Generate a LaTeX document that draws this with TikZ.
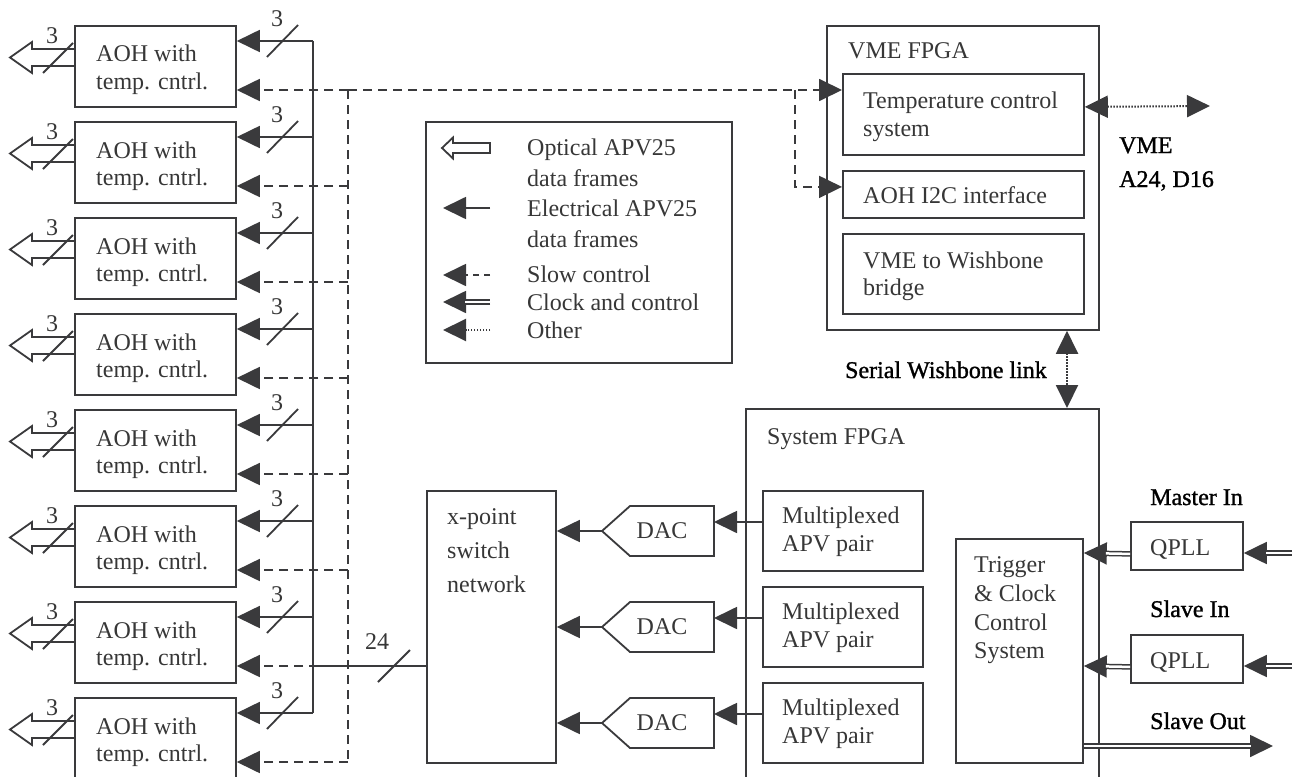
\documentclass[tikz,border=0pt]{standalone}
\usepackage{fontspec}
\setmainfont{Liberation Serif}
\newfontfamily\lblfont[FakeBold=1.2]{Liberation Serif}
\usetikzlibrary{arrows.meta}
\definecolor{lc}{RGB}{58,58,60}
\definecolor{tc}{RGB}{55,55,55}
\begin{document}
\begin{tikzpicture}[x=1pt,y=-1pt,
  ln/.style={draw=lc,line width=1.8pt},
  box/.style={draw=lc,line width=1.8pt,anchor=north west,inner sep=0pt},
  txt/.style={anchor=base west,inner sep=0pt,text=tc,font=\fontsize{24}{28}\selectfont},
  lbl/.style={anchor=base west,inner sep=0pt,text=black,font=\lblfont\fontsize{24}{28}\selectfont},
  num/.style={inner sep=0pt,text=tc,font=\fontsize{24}{28}\selectfont},
  tip/.style={-{Triangle[length=23pt,width=22pt]}},
  tips/.style={{Triangle[length=23pt,width=22pt]}-{Triangle[length=23pt,width=22pt]}},
  dsh/.style={ln,dash pattern=on 9pt off 6pt},
  dts/.style={ln,line width=2pt,dash pattern=on 1.5pt off 1.5pt},
  dbl/.style={draw=lc,line width=1.5pt,double=white,double distance=2.5pt},
]
\path[use as bounding box,fill=white] (0,0) rectangle (1292,776);

% ---------- big containers ----------
\node[box,minimum width=272pt,minimum height=304pt] (vme) at (826,25) {};
\node[txt] (vmet) at (848,59) {VME FPGA};
\node[box,minimum width=241pt,minimum height=81pt] (temp) at (842,73) {};
\node[txt] (tempa) at (863,108) {Temperature control};
\node[txt] (tempb) at (863,136) {system};
\node[box,minimum width=241pt,minimum height=47pt] (i2c) at (842,170) {};
\node[txt] (i2ct) at (863,203) {AOH I2C interface};
\node[box,minimum width=241pt,minimum height=80pt] (brg) at (842,233) {};
\node[txt] (brga) at (863,268) {VME to Wishbone};
\node[txt] (brgb) at (863,295) {bridge};

\node[box,minimum width=353pt,minimum height=400pt] (sys) at (745,408) {};
\node[txt] (syst) at (767,444) {System FPGA};

\node[box,minimum width=129pt,minimum height=272pt] (xpt) at (426,490) {};
\node[txt] (xpta) at (447,524) {x-point};
\node[txt] (xptb) at (447,558) {switch};
\node[txt] (xptc) at (447,592) {network};

% ---------- AOH column ----------
\foreach \i in {1,...,8}{
  \pgfmathsetmacro{\T}{25+96*(\i-1)}
  \node[box,minimum width=161pt,minimum height=81pt] (aoh\i) at (74,\T) {};
  \node[txt] (aoha\i) at (96,\T+37) {AOH with};
  \node[txt] (aohb\i) at (96,\T+64) {temp. cntrl.};
  \coordinate (bus\i) at (313,\T+16);
  \coordinate (sc\i) at (348,\T+65);
  \draw[ln,tip] (bus\i) -- (aoh\i.east |- bus\i);
  \draw[dsh,tip] (sc\i) -- (aoh\i.east |- sc\i);
  \draw[ln] (267,\T+32) -- (298,\T);
  \node[num] (nd\i) at (277,\T-6.5) {3};
  \draw[ln,line join=miter] (74,\T+24) -- (32,\T+24) -- (32,\T+17) -- (10,\T+32.5)
        -- (32,\T+48) -- (32,\T+41) -- (74,\T+41);
  \draw[ln] (43,\T+48) -- (73,\T+18);
  \node[num] (no\i) at (52,\T+10.5) {3};
}
\draw[ln] (bus1) -- (bus8);
\draw[dsh] (sc1) -- (sc8);

% 24-bit bus to x-point
\coordinate (b24) at (313,666);
\draw[ln] (b24) -- (xpt.west |- b24);
\draw[ln] (378,682) -- (410,650);
\node[num] (n24) at (377,642) {24};

% slow control to VME FPGA
\draw[dsh,tip] (sc1) -- (temp.west |- sc1);
\coordinate (br) at (795,90);
\draw[dsh,tip] (br) |- ([yshift=7.5pt]i2c.west);

% VME bus
\coordinate (vmeout) at (1210,106);
\draw[dts,tips] ([yshift=7.5pt]temp.east) -- (vmeout);
\node[lbl] (vmel1) at (1119,153) {VME};
\node[lbl] (vmel2) at (1119,187) {A24, D16};

% serial wishbone link
\coordinate (swx) at (1067,0);
\draw[dts,tips] (vme.south -| swx) -- (sys.north -| swx);
\node[lbl,anchor=base east] (swl) at (1047,378) {Serial Wishbone link};

% ---------- mux / DAC ----------
\foreach \j/\m in {1/490,2/586,3/682}{
  \node[box,minimum width=160pt,minimum height=80pt] (mux\j) at (762,\m) {};
  \node[txt] (muxa\j) at (782,\m+33.5) {Multiplexed};
  \node[txt] (muxb\j) at (782,\m+61.5) {APV pair};
  \draw[ln,line join=miter] (714,\m+16) -- (630,\m+16) -- (602,\m+41) -- (630,\m+66) -- (714,\m+66) -- cycle;
  \node[num] (dac\j) at (662,\m+41) {DAC};
  \coordinate (dacr\j) at (714,\m+32);
  \coordinate (dacl\j) at (602,\m+41);
  \draw[ln,tip] (mux\j.west |- dacr\j) -- (dacr\j);
  \draw[ln,tip] (dacl\j) -- (xpt.east |- dacl\j);
}

% ---------- trigger & clock ----------
\node[box,minimum width=127pt,minimum height=224pt] (trig) at (955,538) {};
\node[txt] (triga) at (974,572) {Trigger};
\node[txt] (trigb) at (974,601) {\& Clock};
\node[txt] (trigc) at (974,630) {Control};
\node[txt] (trigd) at (974,658) {System};

\node[box,minimum width=112pt,minimum height=48pt] (q1) at (1130,521) {};
\node[txt] (q1t) at (1150,555) {QPLL};
\node[box,minimum width=112pt,minimum height=48pt] (q2) at (1130,634) {};
\node[txt] (q2t) at (1150,668) {QPLL};
\node[lbl] (mIn) at (1150,505) {Master In};
\node[lbl] (sIn) at (1150,617) {Slave In};
\node[lbl] (sOut) at (1150,729) {Slave Out};

\coordinate (q1in) at (1292,553);
\coordinate (q2in) at (1292,666);
\coordinate (sout) at (1273,746);
\draw[ln,tip] ([yshift=-8pt]q1.west) -- (trig.east |- q1in);
\draw[dbl,shorten >=22pt] ([yshift=-8pt]q1.west) -- (trig.east |- q1in);
\draw[ln,tip] ([yshift=-8pt]q2.west) -- (trig.east |- q2in);
\draw[dbl,shorten >=22pt] ([yshift=-8pt]q2.west) -- (trig.east |- q2in);
\draw[ln,tip] (q1in) -- (q1.east |- q1in);
\draw[dbl,shorten >=22pt] (q1in) -- (q1.east |- q1in);
\draw[ln,tip] (q2in) -- (q2.east |- q2in);
\draw[dbl,shorten >=22pt] (q2in) -- (q2.east |- q2in);
\draw[ln,tip] (trig.east |- sout) -- (sout);
\draw[dbl,shorten >=22pt] (trig.east |- sout) -- (sout);

% ---------- legend ----------
\node[box,minimum width=306pt,minimum height=241pt] (leg) at (425,121) {};
\draw[ln,line join=miter] (490,143) -- (453,143) -- (453,137.5) -- (442,148) -- (453,158.5) -- (453,153) -- (490,153) -- cycle;
\draw[ln,tip] (490,208) -- (443,208);
\draw[ln,dash pattern=on 6pt off 5pt,tip] (490,275) -- (443,275);
\draw[ln,tip] (490,302) -- (443,302);
\draw[dbl,shorten >=22pt] (490,302) -- (443,302);
\draw[dts,tip] (490,330) -- (443,330);
\node[txt] (lg1) at (527,155) {Optical APV25};
\node[txt] (lg2) at (527,186) {data frames};
\node[txt] (lg3) at (527,216) {Electrical APV25};
\node[txt] (lg4) at (527,247) {data frames};
\node[txt] (lg5) at (527,282) {Slow control};
\node[txt] (lg6) at (527,310) {Clock and control};
\node[txt] (lg7) at (527,338) {Other};
\end{tikzpicture}
\end{document}
